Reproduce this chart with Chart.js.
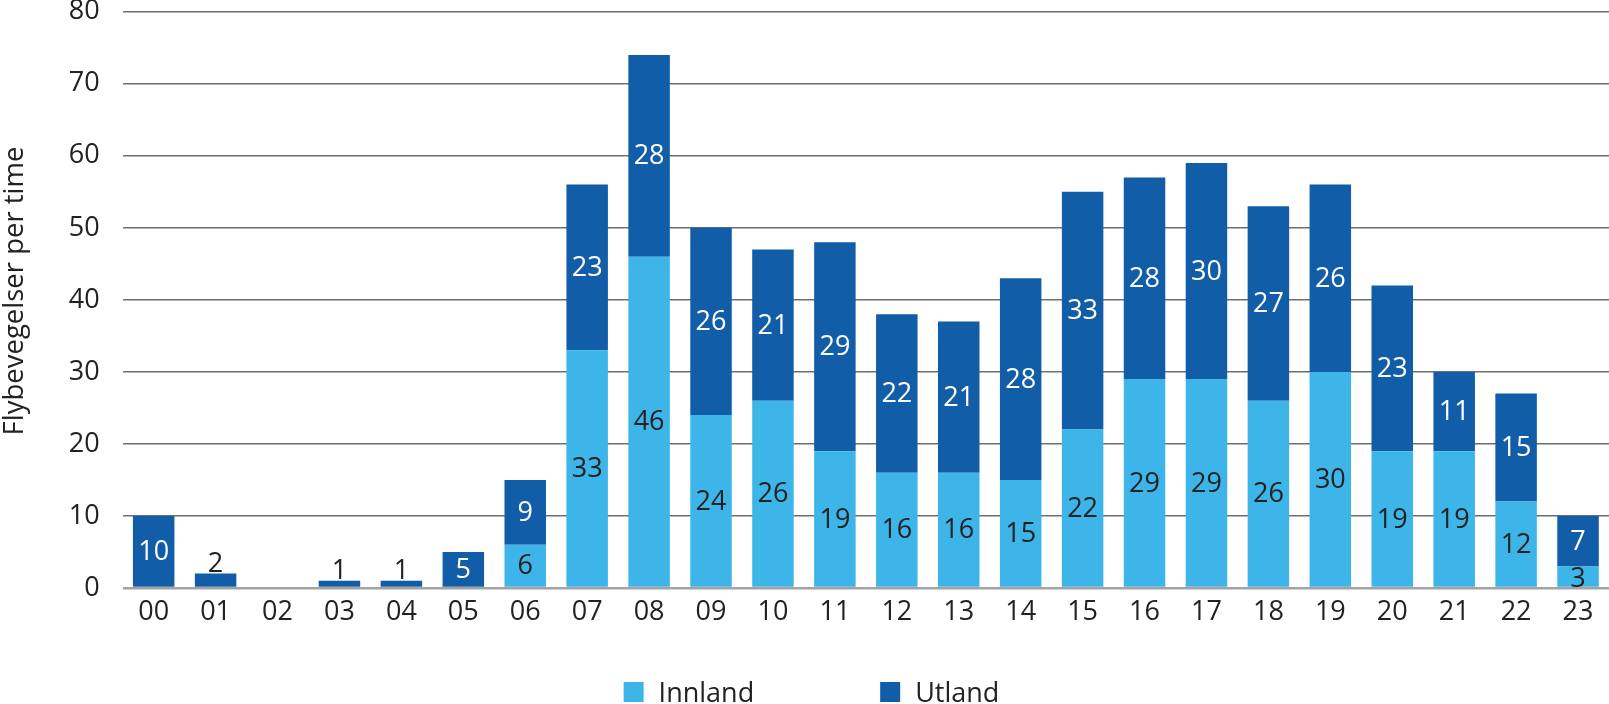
<!DOCTYPE html>
<html>
<head>
<meta charset="utf-8">
<script src="https://cdn.jsdelivr.net/npm/chart.js@4.4.1/dist/chart.umd.min.js"></script>
<style>
html,body{margin:0;padding:0;background:#fff;}
#wrap{width:1609px;height:704px;position:relative;}
</style>
</head>
<body>
<div id="wrap"><canvas id="c"></canvas></div>
<script>
// ---- data ----
const hours = ['00','01','02','03','04','05','06','07','08','09','10','11','12','13','14','15','16','17','18','19','20','21','22','23'];
const innland = [0,0,0,0,0,0,6,33,46,24,26,19,16,16,15,22,29,29,26,30,19,19,12,3];
const utland  = [10,2,0,1,1,5,9,23,28,26,21,29,22,21,28,33,28,30,27,26,23,11,15,7];
const seriesNames = ['Innland','Utland'];
const yAxisTitle = 'Flybevegelser per time';
const yMin = 0, yMax = 80, yStep = 10;

// ---- styles ----
const FONT_FAMILY = "'Open Sans', 'Noto Sans', sans-serif";
const FONT_SIZE = 27;
const TEXT_COLOR = '#222222';
const COLORS = ['#3DB5E9', '#125DA8'];

const labelPlugin = {
  id: 'barLabels',
  afterDatasetsDraw(chart) {
    const ctx = chart.ctx;
    ctx.save();
    ctx.font = FONT_SIZE + 'px ' + FONT_FAMILY;
    ctx.textAlign = 'center';
    chart.data.datasets.forEach((ds, di) => {
      const meta = chart.getDatasetMeta(di);
      meta.data.forEach((bar, i) => {
        const v = ds.data[i];
        if (!v) return;
        const p = bar.getProps(['x', 'y', 'base'], true);
        const h = p.base - p.y;
        if (h < 18) {
          ctx.fillStyle = TEXT_COLOR;
          ctx.textBaseline = 'alphabetic';
          ctx.fillText(String(v), p.x, p.y - 2);
        } else {
          ctx.fillStyle = di === 0 ? TEXT_COLOR : '#ffffff';
          ctx.textBaseline = 'middle';
          const shift = h < 25 ? 3 : 1;
          ctx.fillText(String(v), p.x, (p.y + p.base) / 2 + shift);
        }
      });
    });
    ctx.restore();
  }
};

const legendAndTitlePlugin = {
  id: 'customLegend',
  afterDraw(chart) {
    const ctx = chart.ctx;
    ctx.save();
    ctx.font = FONT_SIZE + 'px ' + FONT_FAMILY;
    // legend
    const box = 20, textGap = 15, itemGap = 126;
    const widths = chart.data.datasets.map(d => ctx.measureText(d.label).width);
    let total = 0;
    widths.forEach((w, i) => { total += box + textGap + w + (i < widths.length - 1 ? itemGap : 0); });
    let x = chart.width / 2 + 7 - total / 2;
    const baseY = 702;
    ctx.textBaseline = 'alphabetic';
    ctx.textAlign = 'left';
    chart.data.datasets.forEach((d, i) => {
      ctx.fillStyle = d.backgroundColor;
      ctx.fillRect(x, baseY - box, box, box);
      ctx.fillStyle = TEXT_COLOR;
      ctx.fillText(d.label, x + box + textGap, baseY);
      x += box + textGap + widths[i] + itemGap;
    });
    // y axis title
    ctx.font = '27.5px ' + FONT_FAMILY;
    ctx.translate(22.5, 291);
    ctx.rotate(-Math.PI / 2);
    ctx.textAlign = 'center';
    ctx.fillStyle = TEXT_COLOR;
    ctx.fillText(yAxisTitle, 0, 0);
    ctx.restore();
  }
};

new Chart(document.getElementById('c'), {
  type: 'bar',
  data: {
    labels: hours,
    datasets: [
      { label: seriesNames[0], data: innland, backgroundColor: COLORS[0], borderWidth: 0 },
      { label: seriesNames[1], data: utland, backgroundColor: COLORS[1], borderWidth: 0 }
    ]
  },
  options: {
    responsive: true,
    maintainAspectRatio: false,
    animation: false,
    datasets: { bar: { barPercentage: 0.67, categoryPercentage: 1.0 } },
    layout: { padding: { top: 11.7, bottom: 75, left: 0, right: 0 } },
    plugins: {
      legend: { display: false },
      tooltip: { enabled: false }
    },
    scales: {
      x: {
        stacked: true,
        grid: { display: false, drawTicks: false },
        border: { display: false },
        ticks: {
          font: { family: FONT_FAMILY, size: FONT_SIZE },
          color: TEXT_COLOR,
          padding: 8,
          maxRotation: 0,
          autoSkip: false
        },
        afterFit(scale) {
          scale.height = 41;
          scale.paddingLeft = 0;
          scale.paddingRight = 0;
        }
      },
      y: {
        stacked: true,
        min: yMin,
        max: yMax,
        border: { display: false },
        grid: {
          drawTicks: false,
          color: c => (c.tick && c.tick.value === 0) ? '#a3a3a3' : '#6e6e6e',
          lineWidth: c => (c.tick && c.tick.value === 0) ? 2.5 : 1.5
        },
        ticks: {
          stepSize: yStep,
          font: { family: FONT_FAMILY, size: FONT_SIZE },
          color: TEXT_COLOR,
          padding: 23
        },
        afterFit(scale) {
          scale.width = 122.7;
          scale.paddingTop = 0;
          scale.paddingBottom = 0;
        }
      }
    }
  },
  plugins: [labelPlugin, legendAndTitlePlugin]
});
</script>
</body>
</html>
